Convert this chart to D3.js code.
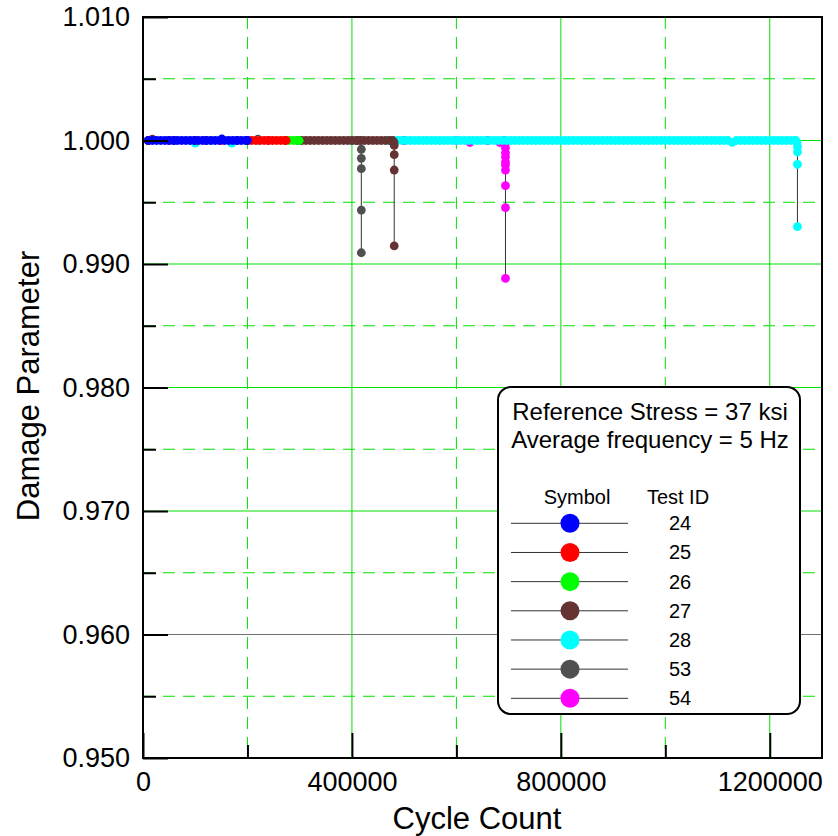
<!DOCTYPE html>
<html><head><meta charset="utf-8">
<script src="https://cdn.jsdelivr.net/npm/d3@7"></script>
<style>body{margin:0;background:#fff} svg{display:block}</style>
</head><body><svg id="c" width="838" height="836"></svg>
<script>
// ---------- data ----------
const testIds = ["24","25","26","27","28","53","54"];
const colors  = ["#0000ff","#ff0000","#00ff00","#663333","#00ffff","#505050","#ff00ff"];

// [cycle count, damage parameter]
const test24 = [[10000,1.0],[18000,1.0],[26000,1.0],[34000,1.0],[42000,1.0],[50000,1.0],[58000,1.0],[66000,1.0],[74000,1.0],[82000,1.0],[90000,1.0],[98000,1.0],[106000,1.0],[114000,1.0],[122000,1.0],[130000,1.0],[138000,1.0],[146000,1.0],[151000,1.00012],[156000,1.0],[164000,1.0],[172000,1.0],[180000,1.0],[188000,1.0],[196000,1.0],[200000,1.0]];
const test25 = [[10000,1.0],[50000,1.0],[100000,1.0],[150000,1.0],[200000,1.0],[208000,1.0],[216000,1.0],[224000,1.0],[232000,1.0],[240000,1.0],[248000,1.0],[256000,1.0],[264000,1.0],[272000,1.0],[274000,1.0]];
const test26 = [[10000,1.0],[100000,1.0],[200000,1.0],[272000,1.0],[280000,1.0],[288000,1.0],[296000,1.0],[299000,1.0]];
const test27 = [[10000,1.0],[18000,1.0001],[60000,1.0],[120000,1.0],[180000,1.0],[240000,1.0],[296000,1.0],[304000,1.0],[312000,1.0],[320000,1.0],[328000,1.0],[336000,1.0],[344000,1.0],[352000,1.0],[360000,1.0],[368000,1.0],[376000,1.0],[384000,1.0],[392000,1.0],[400000,1.0],[408000,1.0],[416000,1.0],[424000,1.0],[432000,1.0],[440000,1.0],[448000,1.0],[456000,1.0],[464000,1.0],[472000,1.0],[478000,1.0],[480500,0.99985],[481000,0.9996],[481000,0.99885],[481000,0.99761],[481000,0.99146]];
const test28 = [[10000,1.0],[60000,1.0],[100000,0.99978],[130000,1.0],[170000,0.99978],[220000,1.0],[300000,1.0],[400000,1.0],[470000,1.0],[480000,1.0],
 [488000,1.0],[496000,1.0],[504000,1.0],[512000,1.0],[520000,1.0],[528000,1.0],[536000,1.0],[544000,1.0],[552000,1.0],[560000,1.0],[568000,1.0],[576000,1.0],[584000,1.0],[592000,1.0],[600000,1.0],[608000,1.0],[616000,1.0],[624000,1.0],[632000,1.0],[640000,1.0],[648000,1.0],[656000,1.0],[664000,1.0],[672000,1.0],[680000,1.0],[688000,1.0],[696000,1.0],[704000,1.0],[712000,1.0],[720000,1.0],[728000,1.0],[736000,1.0],[744000,1.0],[752000,1.0],[760000,1.0],[768000,1.0],[776000,1.0],[784000,1.0],[792000,1.0],[800000,1.0],[808000,1.0],[816000,1.0],[824000,1.0],[832000,1.0],[840000,1.0],[848000,1.0],[856000,1.0],[864000,1.0],[872000,1.0],[880000,1.0],[888000,1.0],[896000,1.0],[904000,1.0],[912000,1.0],[920000,1.0],[928000,1.0],[936000,1.0],[944000,1.0],[952000,1.0],[960000,1.0],[968000,1.0],[976000,1.0],[984000,1.0],[992000,1.0],[1000000,1.0],[1008000,1.0],[1016000,1.0],[1024000,1.0],[1032000,1.0],[1040000,1.0],[1048000,1.0],[1056000,1.0],[1064000,1.0],[1072000,1.0],[1080000,1.0],[1088000,1.0],[1096000,1.0],[1104000,1.0],[1112000,1.0],[1120000,1.0],[1128000,0.99985],[1136000,1.0],[1144000,1.0],[1152000,1.0],[1160000,1.0],[1168000,1.0],[1176000,1.0],[1184000,1.0],[1192000,1.0],[1200000,1.0],[1208000,1.0],[1216000,1.0],[1224000,1.0],[1232000,1.0],[1240000,1.0],[1248000,1.0],
 [1250000,1.0],[1252000,0.99985],[1253000,0.9995],[1253000,0.99907],[1253000,0.99807],[1253000,0.99302]];
const test53 = [[10000,1.0],[100000,1.0],[200000,1.0],[220000,1.0001],[300000,1.0],[400000,1.0],[410000,1.0],[417000,1.0],[418000,0.99929],[418000,0.99856],[418000,0.99772],[418000,0.99437],[418000,0.99091]];
const test54 = [[10000,1.0],[100000,1.0],[200000,1.0],[300000,1.0],[400000,1.0],[500000,1.0],[600000,1.0],[626000,0.99984],[660000,1.0],[683000,0.99984],[690000,1.0],[693000,0.9997],[694000,0.99939],[694000,0.99899],[694000,0.99866],[694000,0.99826],[694000,0.99802],[694000,0.99761],[694000,0.99634],[694000,0.99456],[694000,0.98884]];
const seriesData = [test24, test25, test26, test27, test28, test53, test54];

const xTicks = [0, 400000, 800000, 1200000];
const xMinor = [200000, 600000, 1000000];
const yTicks = [0.950, 0.960, 0.970, 0.980, 0.990, 1.000, 1.010];
const yMinor = [0.955, 0.965, 0.975, 0.985, 0.995, 1.005];
const noteLines = ["Reference Stress = 37 ksi", "Average frequency = 5 Hz"];

// ---------- chart ----------
const FONT = "'Liberation Sans', Arial, Helvetica, sans-serif";
const svg = d3.select("#c").style("font-family", FONT);
const L = 143, R = 822, T = 17, B = 758;
const x = d3.scaleLinear().domain([0, 1300000]).range([L, R]);
const y = d3.scaleLinear().domain([0.950, 1.010]).range([B, T]);
const GREEN = "#00e000";

const grid = svg.append("g");
grid.selectAll(".ys").data(yTicks).join("line")
  .attr("x1", L).attr("x2", R).attr("y1", d => y(d)).attr("y2", d => y(d))
  .attr("stroke", d => Math.abs(d - 0.960) < 1e-9 ? "#707070" : GREEN).attr("stroke-width", 1);
grid.selectAll(".yd").data(yMinor).join("line")
  .attr("x1", L).attr("x2", R).attr("y1", d => y(d)).attr("y2", d => y(d))
  .attr("stroke", GREEN).attr("stroke-width", 1).attr("stroke-dasharray", "12,8");
grid.selectAll(".xs").data(xTicks.filter(d => d > 0)).join("line")
  .attr("y1", T).attr("y2", B).attr("x1", d => x(d)).attr("x2", d => x(d))
  .attr("stroke", GREEN).attr("stroke-width", 1);
grid.selectAll(".xd").data(xMinor).join("line")
  .attr("y1", T).attr("y2", B).attr("x1", d => x(d)).attr("x2", d => x(d))
  .attr("stroke", GREEN).attr("stroke-width", 1).attr("stroke-dasharray", "12,8");

// legend box (behind data, above grid)
const lg = svg.append("g");
lg.append("rect").attr("x", 498).attr("y", 387).attr("width", 302).attr("height", 327)
  .attr("rx", 13).attr("fill", "#fff").attr("stroke", "#000").attr("stroke-width", 2);
lg.selectAll(".note").data(noteLines).join("text")
  .attr("x", 650).attr("y", (d, i) => 420 + i * 28).attr("text-anchor", "middle")
  .attr("font-size", 24).text(d => d);
lg.append("text").attr("x", 577).attr("y", 504).attr("text-anchor", "middle").attr("font-size", 20).text("Symbol");
lg.append("text").attr("x", 678).attr("y", 504).attr("text-anchor", "middle").attr("font-size", 20).text("Test ID");
const rows = lg.selectAll(".row").data(testIds).join("g")
  .attr("transform", (d, i) => `translate(0,${523.3 + i * 29.17})`);
rows.append("line").attr("x1", 511).attr("x2", 628).attr("y1", 0).attr("y2", 0).attr("stroke", "#333").attr("stroke-width", 1);
rows.append("circle").attr("cx", 570).attr("cy", 0).attr("r", 9.5).attr("fill", (d, i) => colors[i]);
rows.append("text").attr("x", 680).attr("y", 7).attr("text-anchor", "middle").attr("font-size", 20).text(d => d);

// data, drawn in reverse order so test 24 is on top
const line = d3.line().x(d => x(d[0])).y(d => y(d[1]));
const order = d3.range(seriesData.length).reverse();
const dg = svg.append("g");
order.forEach(i => {
  const g = dg.append("g");
  g.append("path").datum(seriesData[i]).attr("d", line).attr("fill", "none")
    .attr("stroke", "#333").attr("stroke-width", 1);
  g.selectAll("circle").data(seriesData[i]).join("circle")
    .attr("cx", d => x(d[0])).attr("cy", d => y(d[1])).attr("r", 4.4).attr("fill", colors[i]);
});

// frame
svg.append("rect").attr("x", L).attr("y", T).attr("width", R - L).attr("height", B - T)
  .attr("fill", "none").attr("stroke", "#000").attr("stroke-width", 2);

// axes
const fmtY = d3.format(".3f");
const ay = svg.append("g").attr("transform", `translate(${L},0)`)
  .call(d3.axisLeft(y).tickValues(yTicks).tickSize(-25).tickPadding(13).tickFormat(fmtY));
const ay2 = svg.append("g").attr("transform", `translate(${L},0)`)
  .call(d3.axisLeft(y).tickValues(yMinor).tickSize(-13).tickFormat(""));
const ax = svg.append("g").attr("transform", `translate(0,${B})`)
  .call(d3.axisBottom(x).tickValues(xTicks).tickSize(-25).tickPadding(14).tickFormat(d3.format("d")));
const ax2 = svg.append("g").attr("transform", `translate(0,${B})`)
  .call(d3.axisBottom(x).tickValues(xMinor).tickSize(-13).tickFormat(""));
[ay, ay2, ax, ax2].forEach(g => {
  g.select(".domain").remove();
  g.selectAll(".tick line").attr("stroke", "#000").attr("stroke-width", 2);
  g.selectAll("text").attr("font-family", FONT).attr("font-size", 27).attr("fill", "#000");
});

// titles
svg.append("text").attr("x", 477).attr("y", 829).attr("text-anchor", "middle")
  .attr("font-size", 31).text("Cycle Count");
svg.append("text").attr("transform", "translate(39,386) rotate(-90)").attr("text-anchor", "middle")
  .attr("font-size", 31).text("Damage Parameter");
</script></body></html>
